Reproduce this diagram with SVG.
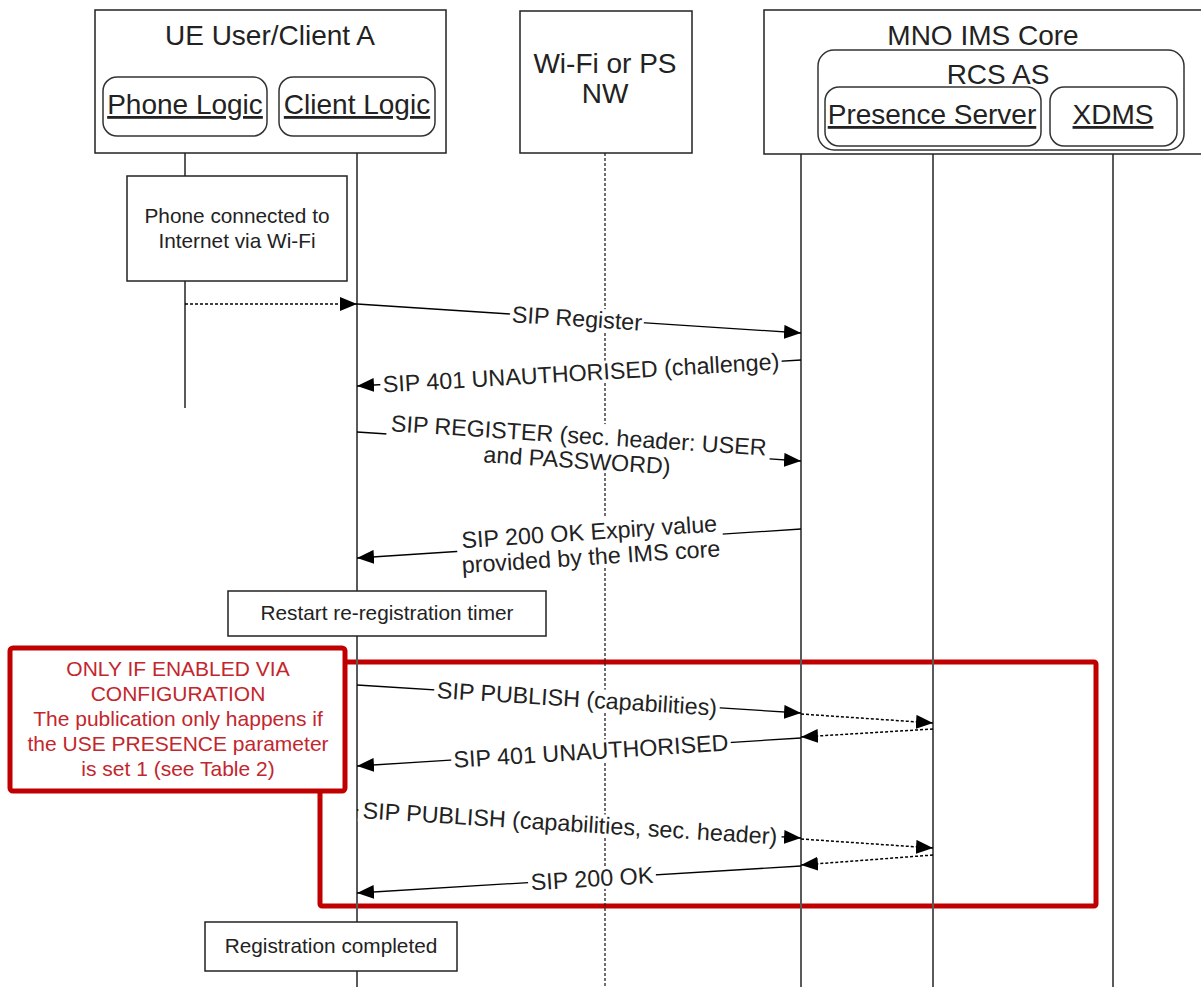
<svg xmlns="http://www.w3.org/2000/svg" width="1201" height="987" viewBox="0 0 1201 987">
  <defs>
    <marker id="arrow" markerUnits="userSpaceOnUse" markerWidth="18" markerHeight="14" refX="17" refY="7" orient="auto">
      <path d="M0,0 L17,7 L0,14 z" fill="#000"/>
    </marker>
    <style>
      .box { fill: #fff; stroke: #222; stroke-width: 1.5; }
      .rbox { fill: #fff; stroke: #333; stroke-width: 1.5; }
      .life { stroke: #5a5a5a; stroke-width: 2; fill: none; }
      .life-dot { stroke: #222; stroke-width: 1.3; stroke-dasharray: 3 2; fill: none; }
      .msg { stroke: #000; stroke-width: 1.3; fill: none; marker-end: url(#arrow); }
      .msg-dot { stroke: #000; stroke-width: 1.5; stroke-dasharray: 3 2; fill: none; marker-end: url(#arrow); }
      .hdr { font-family: "Liberation Sans", Arial, sans-serif; font-size: 28px; fill: #222; text-anchor: middle; }
      .ul { text-decoration: underline; }
      .lbl { font-family: "Liberation Sans", Arial, sans-serif; font-size: 23.3px; fill: #222; text-anchor: middle; dominant-baseline: central; }
      .note { font-family: "Liberation Sans", Arial, sans-serif; font-size: 20.8px; fill: #222; text-anchor: middle; }
      .red { font-family: "Liberation Sans", Arial, sans-serif; font-size: 21px; fill: #c3262d; text-anchor: middle; }
      .bg { fill: #fff; }
      .frame { fill: none; stroke: #c00000; stroke-width: 5; stroke-linejoin: round; }
    </style>
  </defs>

  <!-- conditional publication frame -->
  <rect class="frame" x="320" y="662" width="776" height="244" rx="2"/>

  <!-- lifelines -->
  <g id="lifelines">
    <line class="life" x1="185" y1="136" x2="185" y2="408"/>
    <line class="life" x1="357" y1="136" x2="357" y2="987"/>
    <line class="life-dot" x1="605" y1="153" x2="605" y2="987"/>
    <line class="life" x1="801" y1="154" x2="801" y2="987"/>
    <line class="life" x1="933" y1="146" x2="933" y2="987"/>
    <line class="life" x1="1113" y1="146" x2="1113" y2="987"/>
  </g>

  <!-- participants -->
  <g id="ue">
    <rect class="box" x="95" y="10" width="351" height="143"/>
    <text class="hdr" x="270" y="45">UE User/Client A</text>
  </g>
  <g id="phone-logic">
    <rect class="rbox" x="103" y="77" width="164" height="59" rx="14"/>
    <text class="hdr ul" x="185" y="114">Phone Logic</text>
  </g>
  <g id="client-logic">
    <rect class="rbox" x="279" y="77" width="156" height="59" rx="14"/>
    <text class="hdr ul" x="357" y="114">Client Logic</text>
  </g>
  <g id="wifi-nw">
    <rect class="box" x="520" y="11" width="172" height="142"/>
    <text class="hdr" x="605" y="73">Wi-Fi or PS</text>
    <text class="hdr" x="605" y="103">NW</text>
  </g>
  <g id="mno-ims-core">
    <rect class="box" x="764" y="10" width="440" height="144"/>
    <text class="hdr" x="983" y="45">MNO IMS Core</text>
  </g>
  <g id="rcs-as">
    <rect class="rbox" x="818" y="50" width="366" height="100" rx="16"/>
    <text class="hdr" x="998" y="84">RCS AS</text>
  </g>
  <g id="presence-server">
    <rect class="rbox" x="825" y="87" width="216" height="59" rx="14"/>
    <text class="hdr ul" x="932" y="124">Presence Server</text>
  </g>
  <g id="xdms">
    <rect class="rbox" x="1050" y="87" width="127" height="59" rx="14"/>
    <text class="hdr ul" x="1113" y="124">XDMS</text>
  </g>

  <!-- notes -->
  <g id="note-wifi">
    <rect class="box" x="127" y="176" width="220" height="105"/>
    <text class="note" x="237" y="223">Phone connected to</text>
    <text class="note" x="237" y="248">Internet via Wi-Fi</text>
  </g>
  <g id="note-restart">
    <rect class="box" x="228" y="591" width="318" height="45"/>
    <text class="note" x="387" y="620">Restart re-registration timer</text>
  </g>
  <g id="note-config">
    <rect x="10" y="648" width="335" height="143" rx="3" fill="#fff" stroke="#c00000" stroke-width="5"/>
    <text class="red" x="178" y="676">ONLY IF ENABLED VIA</text>
    <text class="red" x="178" y="701">CONFIGURATION</text>
    <text class="red" x="178" y="726">The publication only happens if</text>
    <text class="red" x="178" y="751">the USE PRESENCE parameter</text>
    <text class="red" x="178" y="776">is set 1 (see Table 2)</text>
  </g>
  <g id="note-complete">
    <rect class="box" x="205" y="922" width="252" height="49"/>
    <text class="note" x="331" y="953">Registration completed</text>
  </g>

  <!-- messages -->
  <g id="connectors">
    <line class="msg-dot" x1="185" y1="304" x2="357" y2="304"/>

    <line class="msg" x1="357" y1="304" x2="801" y2="333"/>
    <g transform="translate(577,318.4) rotate(3.74)">
      <rect class="bg" x="-67" y="-11" width="134" height="22"/>
      <text class="lbl" x="0" y="0">SIP Register</text>
    </g>

    <line class="msg" x1="801" y1="360" x2="357" y2="386"/>
    <g transform="translate(581,372.9) rotate(-3.35)">
      <rect class="bg" x="-201" y="-11" width="402" height="22"/>
      <text class="lbl" x="0" y="0">SIP 401 UNAUTHORISED (challenge)</text>
    </g>

    <line class="msg" x1="357" y1="432" x2="801" y2="461"/>
    <g transform="translate(578,446.4) rotate(3.74)">
      <rect class="bg" x="-192" y="-24" width="384" height="48"/>
      <text class="lbl" x="0" y="-11">SIP REGISTER (sec. header: USER</text>
      <text class="lbl" x="0" y="14">and PASSWORD)</text>
    </g>

    <line class="msg" x1="801" y1="529" x2="357" y2="558"/>
    <g transform="translate(590,542.8) rotate(-3.74)">
      <rect class="bg" x="-133" y="-24" width="266" height="48"/>
      <text class="lbl" x="0" y="-11">SIP 200 OK Expiry value</text>
      <text class="lbl" x="0" y="14">provided by the IMS core</text>
    </g>

    <line class="msg" x1="357" y1="685" x2="801" y2="713"/>
    <g transform="translate(577,698.9) rotate(3.61)">
      <rect class="bg" x="-143" y="-11" width="286" height="22"/>
      <text class="lbl" x="0" y="0">SIP PUBLISH (capabilities)</text>
    </g>
    <line class="msg-dot" x1="801" y1="714" x2="933" y2="723"/>

    <line class="msg-dot" x1="933" y1="729" x2="801" y2="737"/>
    <line class="msg" x1="801" y1="738" x2="357" y2="766"/>
    <g transform="translate(591,751.2) rotate(-3.61)">
      <rect class="bg" x="-140" y="-11" width="280" height="22"/>
      <text class="lbl" x="0" y="0">SIP 401 UNAUTHORISED</text>
    </g>

    <line class="msg" x1="357" y1="810" x2="801" y2="838"/>
    <g transform="translate(570,823.4) rotate(3.61)">
      <rect class="bg" x="-212" y="-11" width="424" height="22"/>
      <text class="lbl" x="0" y="0">SIP PUBLISH (capabilities, sec. header)</text>
    </g>
    <line class="msg-dot" x1="801" y1="839" x2="933" y2="848"/>

    <line class="msg-dot" x1="933" y1="855" x2="801" y2="865"/>
    <line class="msg" x1="801" y1="866" x2="357" y2="893"/>
    <g transform="translate(592,878.6) rotate(-3.5)">
      <rect class="bg" x="-64" y="-11" width="128" height="22"/>
      <text class="lbl" x="0" y="0">SIP 200 OK</text>
    </g>
  </g>
</svg>
